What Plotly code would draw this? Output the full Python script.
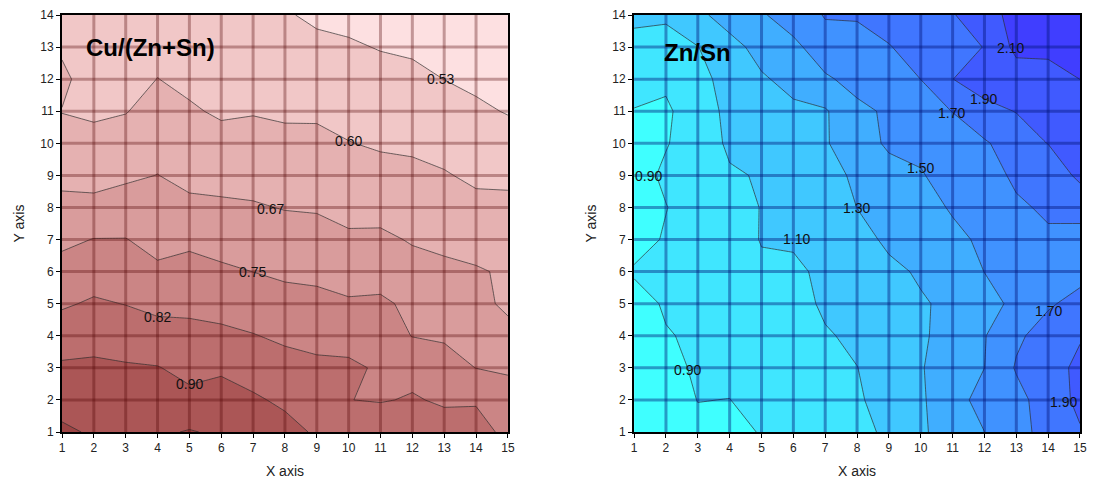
import plotly.graph_objects as go

# ---------------- data ----------------
x_vals = list(range(1, 16))
y_vals = list(range(1, 15))
tick_x = list(range(1, 16))
tick_y = list(range(1, 15))

# Cu/(Zn+Sn): rows are y = 1..14, columns x = 1..15
cu_z = [
    [0.987, 0.967, 0.960, 0.963, 0.980, 0.963, 0.950, 0.924, 0.891, 0.865, 0.880, 0.860, 0.855, 0.845, 0.812],
    [0.949, 0.940, 0.935, 0.930, 0.917, 0.928, 0.910, 0.887, 0.865, 0.826, 0.820, 0.831, 0.816, 0.820, 0.777],
    [0.911, 0.912, 0.907, 0.903, 0.881, 0.890, 0.869, 0.850, 0.838, 0.838, 0.816, 0.805, 0.777, 0.749, 0.742],
    [0.864, 0.877, 0.867, 0.854, 0.844, 0.840, 0.828, 0.813, 0.806, 0.798, 0.785, 0.748, 0.742, 0.727, 0.706],
    [0.816, 0.834, 0.823, 0.806, 0.809, 0.799, 0.789, 0.775, 0.769, 0.758, 0.762, 0.735, 0.715, 0.704, 0.656],
    [0.776, 0.793, 0.787, 0.761, 0.774, 0.761, 0.7495, 0.738, 0.734, 0.721, 0.721, 0.697, 0.688, 0.681, 0.667],
    [0.735, 0.752, 0.752, 0.730, 0.736, 0.724, 0.715, 0.705, 0.701, 0.685, 0.687, 0.670, 0.661, 0.650, 0.641],
    [0.693, 0.693, 0.706, 0.703, 0.689, 0.686, 0.681, 0.672, 0.669, 0.656, 0.654, 0.642, 0.633, 0.617, 0.615],
    [0.658, 0.653, 0.664, 0.676, 0.658, 0.653, 0.652, 0.644, 0.643, 0.629, 0.622, 0.615, 0.605, 0.588, 0.587],
    [0.629, 0.621, 0.631, 0.651, 0.633, 0.622, 0.624, 0.617, 0.616, 0.602, 0.592, 0.589, 0.578, 0.562, 0.554],
    [0.598, 0.589, 0.597, 0.626, 0.608, 0.591, 0.596, 0.590, 0.590, 0.578, 0.569, 0.565, 0.551, 0.537, 0.521],
    [0.615, 0.565, 0.575, 0.601, 0.585, 0.575, 0.575, 0.565, 0.564, 0.555, 0.545, 0.540, 0.5245, 0.511, 0.500],
    [0.590, 0.560, 0.565, 0.580, 0.570, 0.560, 0.555, 0.545, 0.538, 0.532, 0.522, 0.516, 0.500, 0.490, 0.480],
    [0.570, 0.555, 0.560, 0.565, 0.560, 0.550, 0.540, 0.530, 0.515, 0.509, 0.500, 0.500, 0.485, 0.475, 0.465],
]

# Zn/Sn: rows are y = 1..14, columns x = 1..15
zn_z = [
    [0.72, 0.80, 0.865, 0.87, 0.906, 0.95, 1.00, 1.05, 1.132, 1.27, 1.395, 1.498, 1.64, 1.762, 1.885],
    [0.75, 0.83, 0.903, 0.898, 0.95, 0.98, 1.02, 1.07, 1.195, 1.285, 1.373, 1.617, 1.636, 1.80, 1.943],
    [0.78, 0.86, 0.919, 0.94, 0.98, 1.00, 1.04, 1.098, 1.165, 1.29, 1.381, 1.499, 1.717, 1.83, 1.939],
    [0.81, 0.889, 0.926, 0.96, 1.00, 1.02, 1.086, 1.128, 1.20, 1.28, 1.354, 1.49, 1.67, 1.773, 1.886],
    [0.83, 0.92, 0.95, 0.97, 1.03, 1.04, 1.125, 1.18, 1.25, 1.285, 1.332, 1.44, 1.538, 1.68, 1.754],
    [0.92, 0.93, 0.96, 0.98, 1.067, 1.055, 1.149, 1.21, 1.264, 1.319, 1.40, 1.502, 1.57, 1.62, 1.646],
    [0.83, 0.9175, 0.97, 1.00, 1.11, 1.13, 1.18, 1.24, 1.331, 1.40, 1.46, 1.53, 1.60, 1.66, 1.68],
    [0.82, 0.895, 0.978, 1.04, 1.105, 1.14, 1.17, 1.302, 1.40, 1.436, 1.517, 1.58, 1.66, 1.74, 1.72],
    [0.83, 0.93, 0.98, 1.078, 1.115, 1.19, 1.178, 1.36, 1.44, 1.49, 1.557, 1.586, 1.749, 1.729, 1.957],
    [0.85, 0.89, 0.98, 1.134, 1.17, 1.23, 1.282, 1.42, 1.526, 1.533, 1.60, 1.677, 1.80, 1.905, 2.00],
    [0.89, 0.88, 0.97, 1.164, 1.23, 1.27, 1.282, 1.44, 1.538, 1.62, 1.704, 1.846, 1.906, 1.98, 2.05],
    [0.99, 0.923, 1.03, 1.182, 1.281, 1.349, 1.463, 1.586, 1.62, 1.701, 1.898, 1.988, 2.00, 2.04, 2.101],
    [1.05, 1.03, 1.095, 1.241, 1.359, 1.433, 1.656, 1.68, 1.695, 1.74, 1.835, 1.905, 2.15, 2.137, 2.16],
    [1.135, 1.128, 1.26, 1.378, 1.47, 1.637, 1.707, 1.705, 1.74, 1.80, 1.88, 2.08, 2.116, 2.20, 2.25],
]

# contour level settings
cu_levels = dict(start=0.525, end=0.976, size=0.075)
zn_levels = dict(start=0.9, end=2.101, size=0.2)

# contour labels (text, x, y)
cu_labels = [("0.53", 12.88, 12.0), ("0.60", 9.98, 10.06), ("0.67", 7.54, 7.96),
             ("0.75", 6.97, 5.99), ("0.82", 4.0, 4.57), ("0.90", 5.0, 2.49)]
zn_labels = [("0.90", 1.44, 8.97), ("1.10", 6.11, 7.02), ("1.30", 7.98, 7.99),
             ("1.50", 10.0, 9.23), ("1.70", 10.98, 10.96), ("1.90", 11.98, 11.38),
             ("2.10", 12.82, 12.96), ("0.90", 2.68, 2.93), ("1.70", 14.01, 4.77),
             ("1.90", 14.48, 1.92)]

# band colours (low -> high)
cu_colors = ["#FDE0E1", "#F1C7C7", "#E5B1B1", "#D99C9C", "#CB8585", "#BC6E6E", "#AB5656", "#9C4444"]
zn_colors = ["#3FFFFF", "#40E6FF", "#40C8FF", "#40AEFF", "#4092FF", "#4076FF", "#405AFF", "#403EFF"]


def stepped_scale(colors):
    n = len(colors) - 1
    return [[i / n, c] for i, c in enumerate(colors)]


FONT = "Arial, Liberation Sans, sans-serif"

fig = go.Figure()

fig.add_trace(go.Contour(
    x=x_vals, y=y_vals, z=cu_z,
    contours=dict(coloring="fill", showlines=True, **cu_levels),
    colorscale=stepped_scale(cu_colors), showscale=False,
    line=dict(color="rgba(45,45,45,0.85)", width=0.8, smoothing=0),
    xaxis="x", yaxis="y", hoverinfo="skip",
))
fig.add_trace(go.Contour(
    x=x_vals, y=y_vals, z=zn_z,
    contours=dict(coloring="fill", showlines=True, **zn_levels),
    colorscale=stepped_scale(zn_colors), showscale=False,
    line=dict(color="rgba(45,45,45,0.85)", width=0.8, smoothing=0),
    xaxis="x2", yaxis="y2", hoverinfo="skip",
))

shapes = []
for xr, yr, col in (("x", "y", "rgba(80,0,0,0.33)"), ("x2", "y2", "rgba(0,20,120,0.42)")):
    for v in tick_x[1:-1]:
        shapes.append(dict(type="line", xref=xr, yref=yr + " domain", x0=v, x1=v, y0=0, y1=1,
                           line=dict(color=col, width=3), layer="above"))
    for v in tick_y[1:-1]:
        shapes.append(dict(type="line", xref=xr + " domain", yref=yr, x0=0, x1=1, y0=v, y1=v,
                           line=dict(color=col, width=3), layer="above"))

annotations = []
for txt, xv, yv in cu_labels:
    annotations.append(dict(text=txt, x=xv, y=yv, xref="x", yref="y", showarrow=False,
                            font=dict(family=FONT, size=14, color="#111")))
for txt, xv, yv in zn_labels:
    annotations.append(dict(text=txt, x=xv, y=yv, xref="x2", yref="y2", showarrow=False,
                            font=dict(family=FONT, size=14, color="#111")))
annotations.append(dict(text="<b>Cu/(Zn+Sn)</b>", x=1.69, y=13.0, xref="x", yref="y",
                        xanchor="left", yanchor="middle", showarrow=False,
                        font=dict(family=FONT, size=24, color="#000")))
annotations.append(dict(text="<b>Zn/Sn</b>", x=1.88, y=12.82, xref="x2", yref="y2",
                        xanchor="left", yanchor="middle", showarrow=False,
                        font=dict(family=FONT, size=24, color="#000")))

axis_common = dict(
    showline=True, linecolor="black", linewidth=2, mirror=True,
    ticks="outside", ticklen=4, tickwidth=1, tickcolor="black",
    showgrid=False, zeroline=False,
    tickfont=dict(family=FONT, size=12, color="#222"),
)

fig.update_layout(
    width=1095, height=485,
    margin=dict(l=62, r=8, t=15, b=52),
    paper_bgcolor="white", plot_bgcolor="white",
    showlegend=False,
    shapes=shapes, annotations=annotations,
    xaxis=dict(domain=[0, 0.438], range=[1, 15], tickvals=tick_x, anchor="y",
               title=dict(text="X axis", font=dict(family=FONT, size=14, color="#222"), standoff=12),
               **axis_common),
    yaxis=dict(domain=[0, 1], range=[1, 14], tickvals=tick_y, anchor="x",
               title=dict(text="Y axis", font=dict(family=FONT, size=14, color="#222"), standoff=12),
               **axis_common),
    xaxis2=dict(domain=[0.562, 1], range=[1, 15], tickvals=tick_x, anchor="y2",
                title=dict(text="X axis", font=dict(family=FONT, size=14, color="#222"), standoff=12),
                **axis_common),
    yaxis2=dict(domain=[0, 1], range=[1, 14], tickvals=tick_y, anchor="x2",
                title=dict(text="Y axis", font=dict(family=FONT, size=14, color="#222"), standoff=12),
                **axis_common),
)

fig.write_html("out.html")
